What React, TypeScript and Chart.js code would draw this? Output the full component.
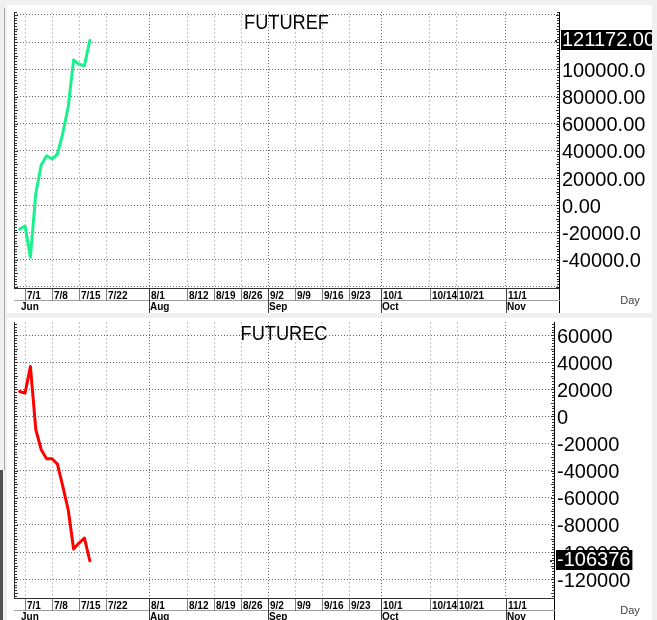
import React, { useEffect, useRef } from "react";
import { Chart, registerables } from "chart.js";

Chart.register(...registerables);

// x = weekday index counted from 6/28 (0 = 6/28, 1 = 7/1, 6 = 7/8 ...)
const dayIndex = [0, 1, 2, 3, 4, 5, 6, 7, 8, 9, 10, 11, 12, 13];
const futurefValues = [-17700, -15300, -38300, 8800, 29600, 36400, 34000, 37500, 52900, 72500, 106900, 103700, 102700, 121172];
const futurecValues = [18400, 17200, 36800, -9800, -24500, -31200, -31200, -35100, -51600, -68800, -97700, -93300, -89600, -106376];

const dateTickIndex = [1, 6, 11, 16, 24, 31, 36, 41, 46, 51, 56, 61, 67, 76, 81, 90];
const dateTickLabels = ["7/1", "7/8", "7/15", "7/22", "8/1", "8/12", "8/19", "8/26", "9/2", "9/9", "9/16", "9/23", "10/1", "10/14", "10/21", "11/1"];
const monthTickIndex = [0, 24, 46, 67, 90];
const monthTickLabels = ["Jun", "Aug", "Sep", "Oct", "Nov"];

const futurefGrid = [-60000, -40000, -20000, 0, 20000, 40000, 60000, 80000, 100000, 120000, 140000];
const futurefTickLabels = ["", "-40000.0", "-20000.0", "0.00", "20000.00", "40000.00", "60000.00", "80000.00", "100000.0", "120000.0", ""];
const futurecGrid = [-120000, -100000, -80000, -60000, -40000, -20000, 0, 20000, 40000, 60000];
const futurecTickLabels = ["-120000", "-100000", "-80000", "-60000", "-40000", "-20000", "0", "20000", "40000", "60000"];

const futurefLastLabel = "121172.00";
const futurecLastLabel = "-106376";

const FONT = '"Liberation Sans", Arial, Helvetica, sans-serif';
const monthStarts = monthTickIndex.slice(1);

type Panel = {
  title: string;
  values: number[];
  color: string;
  grid: number[];
  tickLabels: string[];
  lastLabel: string;
  yMin: number;
  yMax: number;
  xMin: number;
  xMax: number;
  padTop: number;
  xAxisH: number;
  yAxisW: number;
  titleBase: number;
};

const topPanel: Panel = {
  title: "FUTUREF",
  values: futurefValues,
  color: "#19f28c",
  grid: futurefGrid,
  tickLabels: futurefTickLabels,
  lastLabel: futurefLastLabel,
  yMin: -60957,
  yMax: 142208,
  xMin: -1.04,
  xMax: 99.89,
  padTop: 7,
  xAxisH: 25,
  yAxisW: 93,
  titleBase: 16.5,
};

const bottomPanel: Panel = {
  title: "FUTUREC",
  values: futurecValues,
  color: "#ff0000",
  grid: futurecGrid,
  tickLabels: futurecTickLabels,
  lastLabel: futurecLastLabel,
  yMin: -133810,
  yMax: 69580,
  xMin: -1.04,
  xMax: 98.96,
  padTop: 4,
  xAxisH: 22,
  yAxisW: 98,
  titleBase: 17.5,
};

function decorPlugin(p: Panel) {
  return {
    id: "panelDecor",
    afterDraw(chart: any) {
      const ctx: CanvasRenderingContext2D = chart.ctx;
      const ca = chart.chartArea;
      const xs = chart.scales.x;
      const ys = chart.scales.y;
      const L = Math.round(ca.left);
      const R = Math.round(ca.right);
      const T = Math.round(ca.top);
      const B = Math.round(ca.bottom);
      const H = chart.height;
      ctx.save();
      const hline = (x1: number, x2: number, y: number, color: string) => {
        ctx.fillStyle = color;
        ctx.fillRect(x1, y, x2 - x1 + 1, 1);
      };
      const vline = (x: number, y1: number, y2: number, color: string) => {
        ctx.fillStyle = color;
        ctx.fillRect(x, y1, 1, y2 - y1 + 1);
      };
      // minor ticks on both value axes
      for (let v = Math.ceil(ys.min / 2000) * 2000; v <= ys.max; v += 2000) {
        const y = Math.round(ys.getPixelForValue(v));
        const len = v % 10000 === 0 ? 3 : 2;
        ctx.fillStyle = "#303030";
        ctx.fillRect(L + 1, y, len, 1);
        ctx.fillRect(R - len, y, len, 1);
      }
      // axis lines
      vline(L, T, B, "#303030");
      vline(R, T, H, "#000000");
      hline(L, R, B, "#303030");
      // date rows
      const rowY = B + 12;
      hline(L, R, rowY, "#a0a0a0");
      ctx.font = `bold 10px ${FONT}`;
      ctx.textAlign = "left";
      ctx.textBaseline = "alphabetic";
      dateTickIndex.forEach((v, i) => {
        const x = Math.round(xs.getPixelForValue(v));
        vline(x, B + 1, rowY, "#808080");
        ctx.fillStyle = "#000";
        ctx.fillText(dateTickLabels[i], x + 2, B + 11);
      });
      monthTickIndex.forEach((v, i) => {
        const x = Math.round(xs.getPixelForValue(v));
        if (i > 0) vline(x, B + 1, H, "#404040");
        ctx.fillStyle = "#000";
        ctx.fillText(monthTickLabels[i], x + 1, B + 22);
      });
      // "Day" caption
      ctx.font = `11px ${FONT}`;
      ctx.fillStyle = "#404040";
      ctx.textAlign = "center";
      ctx.textBaseline = "middle";
      ctx.fillText("Day", 623, B + 13);
      // title
      ctx.save();
      ctx.font = `20px ${FONT}`;
      ctx.fillStyle = "#000";
      ctx.textAlign = "center";
      ctx.textBaseline = "alphabetic";
      ctx.translate((L + R) / 2, T + p.titleBase);
      ctx.scale(0.91, 1);
      ctx.fillText(p.title, 0, 0);
      ctx.restore();
      // last value box
      const last = p.values[p.values.length - 1];
      const y = ys.getPixelForValue(last);
      ctx.font = `20px ${FONT}`;
      const w = ctx.measureText(p.lastLabel).width;
      ctx.fillStyle = "#000";
      ctx.fillRect(R + 2, Math.round(y - 11), w + 3, 20);
      ctx.fillStyle = "#fff";
      ctx.textAlign = "left";
      ctx.textBaseline = "middle";
      ctx.fillText(p.lastLabel, R + 3, y);
      ctx.fillStyle = "#404040";
      ctx.fillRect(R - 4, Math.round(y) - 1, 2, 2);
      ctx.restore();
    },
  };
}

function makeConfig(p: Panel): any {
  return {
    type: "line",
    data: {
      datasets: [
        {
          data: dayIndex.map((x, i) => ({ x, y: p.values[i] })),
          borderColor: p.color,
          borderWidth: 3,
          pointRadius: 0,
          tension: 0,
          borderJoinStyle: "round",
          borderCapStyle: "round",
          fill: false,
        },
      ],
    },
    options: {
      animation: false,
      responsive: false,
      maintainAspectRatio: false,
      events: [],
      layout: { padding: { left: 7, top: p.padTop, right: 0, bottom: 0 } },
      plugins: { legend: { display: false }, tooltip: { enabled: false }, title: { display: false } },
      scales: {
        x: {
          type: "linear",
          position: "bottom",
          min: p.xMin,
          max: p.xMax,
          afterBuildTicks: (s: any) => {
            s.ticks = dateTickIndex.map((v) => ({ value: v }));
          },
          afterFit: (s: any) => {
            s.height = p.xAxisH;
            s.paddingLeft = 0;
            s.paddingRight = 0;
          },
          ticks: { display: false },
          grid: {
            drawTicks: false,
            lineWidth: 1,
            color: (c: any) => (c.tick && monthStarts.includes(c.tick.value) ? "#707070" : "#c4c4c4"),
          },
          border: {
            display: false,
            dash: (c: any) => (c.tick && monthStarts.includes(c.tick.value) ? [1, 2] : [2, 2]),
          },
        },
        y: {
          type: "linear",
          position: "right",
          min: p.yMin,
          max: p.yMax,
          afterBuildTicks: (s: any) => {
            s.ticks = p.grid.map((v) => ({ value: v }));
          },
          afterFit: (s: any) => {
            s.width = p.yAxisW;
            s.paddingTop = 0;
            s.paddingBottom = 0;
          },
          ticks: {
            autoSkip: false,
            padding: 3,
            labelOffset: 2,
            color: "#000",
            font: { family: FONT, size: 20 },
            callback: (v: number) => {
              const i = p.grid.indexOf(v);
              return i >= 0 ? p.tickLabels[i] : "";
            },
          },
          grid: { drawTicks: false, lineWidth: 1, color: "#6a6a6a" },
          border: { display: false, dash: [1, 2] },
        },
      },
    },
    plugins: [decorPlugin(p)],
  };
}

export default function App() {
  const topRef = useRef<HTMLCanvasElement>(null);
  const botRef = useRef<HTMLCanvasElement>(null);
  useEffect(() => {
    const c1 = new Chart(topRef.current as HTMLCanvasElement, makeConfig(topPanel));
    const c2 = new Chart(botRef.current as HTMLCanvasElement, makeConfig(bottomPanel));
    return () => {
      c1.destroy();
      c2.destroy();
    };
  }, []);
  return (
    <div style={{ position: "absolute", left: 0, top: 0, width: 657, height: 620, background: "#f0f0f0", overflow: "hidden" }}>
      <div style={{ position: "absolute", left: 4, top: 8, width: 1, height: 462, background: "#a8a8a8" }} />
      <div style={{ position: "absolute", left: 0, top: 470, width: 3, height: 150, background: "#505050" }} />
      <canvas ref={topRef} width={645} height={308} style={{ position: "absolute", left: 7, top: 5, background: "#fff" }} />
      <canvas ref={botRef} width={645} height={302} style={{ position: "absolute", left: 7, top: 318, background: "#fff" }} />
    </div>
  );
}
